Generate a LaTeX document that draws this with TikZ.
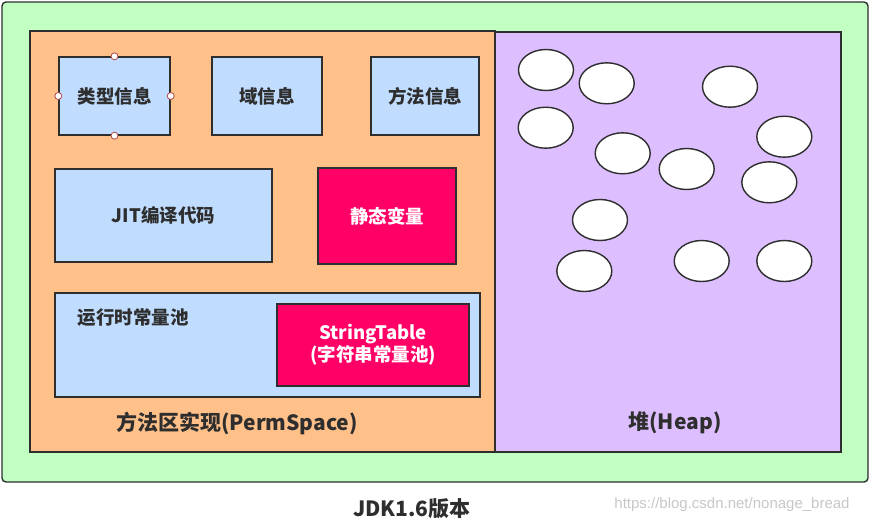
\documentclass[tikz,border=0pt]{standalone}
\usepackage{fontspec}
\setmainfont{Noto Sans CJK SC}
\newfontfamily\markfont{Liberation Sans}
\usetikzlibrary{shapes.geometric}

\definecolor{edgegray}{HTML}{2E2E2E}
\definecolor{jvmgreen}{HTML}{C2FFC2}
\definecolor{permorange}{HTML}{FFC08A}
\definecolor{heappurple}{HTML}{DDBFFF}
\definecolor{infoblue}{HTML}{C0DDFF}
\definecolor{hotpink}{HTML}{FF0066}
\definecolor{handlered}{HTML}{B04848}

\begin{document}
\begin{tikzpicture}[x=1pt, y=-1pt,
    infobox/.style={draw=edgegray, line width=1.4pt, fill=infoblue,
        font=\fontsize{18.5}{22}\selectfont\bfseries, text=edgegray},
    hotbox/.style={infobox, fill=hotpink, text=white},
    blob/.style={ellipse, draw=edgegray, line width=1.4pt, fill=white,
        minimum width=55, minimum height=41, inner sep=0pt},
    handle/.style={circle, draw=handlered, fill=white, line width=0.8pt,
        minimum size=7, inner sep=0pt},
    biglabel/.style={font=\fontsize{21}{24}\selectfont\bfseries, text=edgegray}]
    \useasboundingbox (0,0) rectangle (872,522);

    % JVM frame
    \draw[draw=edgegray, line width=1.4pt, fill=jvmgreen, rounded corners=4]
        (2,2) rectangle (868,482);
    % method area and heap
    \draw[draw=edgegray, line width=1.4pt, fill=permorange] (30,31) rectangle (495,452);
    \draw[draw=edgegray, line width=1.4pt, fill=heappurple] (495,32) rectangle (841,452);

    % class metadata
    \node[infobox, minimum width=111, minimum height=78] (typeinfo) at (114.5,96) {类型信息};
    \node[infobox, minimum width=110, minimum height=78] (fieldinfo) at (267,96) {域信息};
    \node[infobox, minimum width=108, minimum height=78] (methodinfo) at (425,96) {方法信息};

    % selection handles
    \node[handle] (hn) at (typeinfo.north) {};
    \node[handle] (hs) at (typeinfo.south) {};
    \node[handle] (hw) at (typeinfo.west) {};
    \node[handle] (he) at (typeinfo.east) {};

    \node[infobox, minimum width=217, minimum height=93] (jitcode) at (163.5,215.5) {JIT编译代码};
    \node[hotbox, minimum width=138, minimum height=96] (statics) at (387,216) {静态变量};

    % runtime constant pool
    \node[infobox, minimum width=425, minimum height=104] (rtpool) at (267.5,345) {};
    \node[anchor=west, font=\fontsize{18.5}{22}\selectfont\bfseries, text=edgegray]
        (rtlabel) at (74,318) {运行时常量池};
    \node[hotbox, minimum width=192, minimum height=82, align=center] (strtable) at (373,345)
        {StringTable\\(字符串常量池)};

    \node[biglabel] (permlabel) at (237,424) {方法区实现(PermSpace)};
    \node[biglabel] (heaplabel) at (675,423) {堆(Heap)};

    % objects in the heap
    \foreach \n/\px/\py in {1/546/70, 2/606.7/83.3, 3/730/86.7, 4/545.7/127.7,
        5/784.3/136.7, 6/622.7/153.3, 7/686.7/169, 8/769.3/182.3, 9/600/220,
        10/584.3/271, 11/701.7/261, 12/784.3/261}
        \node[blob] (obj\n) at (\px,\py) {};

    \node[biglabel] (title) at (412,509) {JDK1.6版本};
    \node[font=\markfont\fontsize{15}{18}\selectfont, text=black!22] (mark) at (732,505)
        {https://blog.csdn.net/nonage\_bread};
\end{tikzpicture}
\end{document}
